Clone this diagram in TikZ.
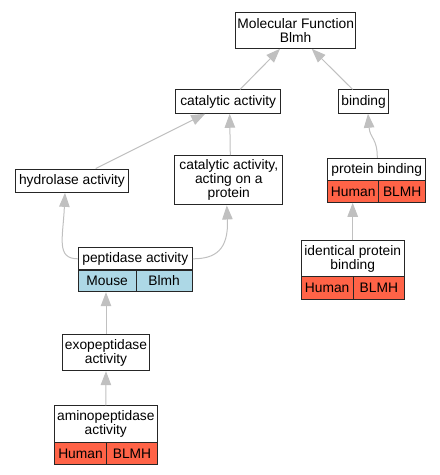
\documentclass[tikz,border=0pt]{standalone}
\usepackage{fontspec}
\setmainfont{Liberation Sans}
\usetikzlibrary{arrows.meta}
\definecolor{edgegray}{RGB}{192,192,192}
\definecolor{humanred}{RGB}{255,99,71}
\definecolor{mouseblue}{RGB}{173,216,230}
\tikzset{
  box/.style={draw=black!85, line width=1pt, fill=white, inner sep=0pt, align=center,
    font=\fontsize{13.8}{14}\selectfont},
  hcell/.style={box, fill=humanred},
  mcell/.style={box, fill=mouseblue},
  edge/.style={draw=edgegray, line width=1pt, -{Triangle[length=14pt,width=10.5pt]}}
}
\begin{document}
\begin{tikzpicture}[x=1pt,y=-1pt]
\useasboundingbox (0,0) rectangle (440,475);
% nodes
\node[box, minimum width=120pt, minimum height=36pt] (mf) at (295.7,30.3) {Molecular Function\\Blmh};
\node[box, minimum width=105pt, minimum height=23.3pt] (cat) at (228.2,101.6) {catalytic activity};
\node[box, minimum width=50.7pt, minimum height=23.3pt] (bind) at (363.6,101.6) {binding};
\node[box, minimum width=112.6pt, minimum height=23.3pt] (hyd) at (72,180.7) {hydrolase activity};
\node[box, minimum width=107.7pt, minimum height=49.3pt] (cap) at (228.8,180.3) {catalytic activity,\\acting on a\\protein};
% protein binding
\node[box, minimum width=98pt, minimum height=22.4pt] (pb) at (376.7,169.5) {protein binding};
\node[hcell, minimum width=51pt, minimum height=21.6pt] (pbh) at (353.2,191.5) {Human};
\node[hcell, minimum width=47pt, minimum height=21.6pt] (pbb) at (402.2,191.5) {BLMH};
% peptidase
\node[box, minimum width=114pt, minimum height=22.3pt] (pep) at (135.3,258.8) {peptidase activity};
\node[mcell, minimum width=57.7pt, minimum height=21.7pt] (pepm) at (107.15,280.85) {Mouse};
\node[mcell, minimum width=56.3pt, minimum height=21.7pt] (pepb) at (164.15,280.85) {Blmh};
% identical protein binding
\node[box, minimum width=103.3pt, minimum height=35.7pt] (ipb) at (352.7,258.8) {identical protein\\binding};
\node[hcell, minimum width=52.3pt, minimum height=22.3pt] (ipbh) at (327.15,287.85) {Human};
\node[hcell, minimum width=51pt, minimum height=22.3pt] (ipbb) at (378.8,287.85) {BLMH};
% exopeptidase
\node[box, minimum width=86.6pt, minimum height=36.4pt] (exo) at (106,352.5) {exopeptidase\\activity};
% aminopeptidase
\node[box, minimum width=103pt, minimum height=36.7pt] (amino) at (105.8,424.3) {aminopeptidase\\activity};
\node[hcell, minimum width=52.4pt, minimum height=21.3pt] (aminoh) at (80.5,453.35) {Human};
\node[hcell, minimum width=50.6pt, minimum height=21.3pt] (aminob) at (132,453.35) {BLMH};
% edges
\draw[edge] ([xshift=11.8pt]cat.north) -- ([xshift=-15.7pt]mf.south);
\draw[edge] ([xshift=-10.9pt]bind.north) -- ([xshift=16pt]mf.south);
\draw[edge] ([xshift=23.7pt]hyd.north) -- ([xshift=-23pt]cat.south);
\draw[edge] ([xshift=1.5pt]cap.north) -- ([xshift=1.5pt]cat.south);
\draw[edge] ([xshift=0.6pt]pb.north) .. controls +(0,-20) and +(2,25) .. ([xshift=4.4pt]bind.south);
\draw[edge] (pep.west) .. controls +(-22,0) and +(-2,45) .. ([xshift=-7pt]hyd.south);
\draw[edge] (pep.east) .. controls +(22,0) and +(2,45) .. ([xshift=-2pt]cap.south);
\draw[edge] (ipb.north) -- (ipb.north |- pbh.south);
\draw[edge] (exo.north) -- (exo.north |- pepm.south);
\draw[edge] (amino.north) -- (exo.south);
\end{tikzpicture}
\end{document}
